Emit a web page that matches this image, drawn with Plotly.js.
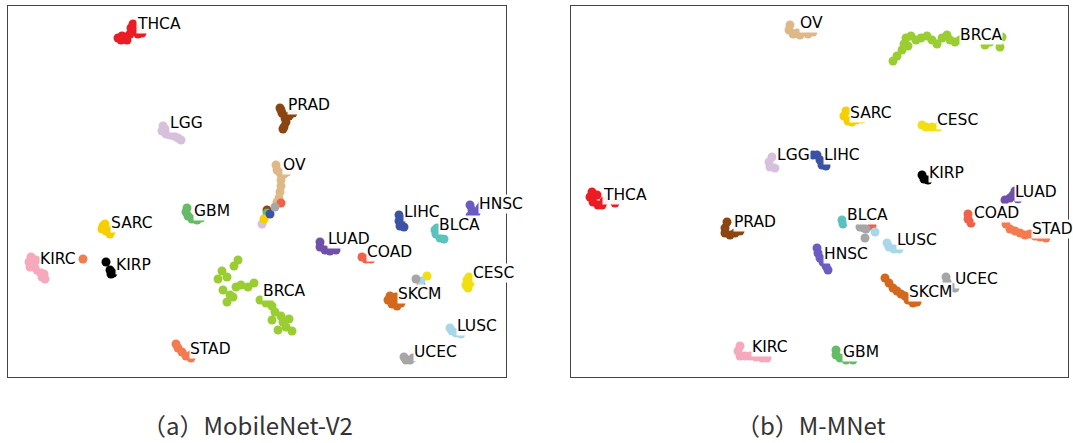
<!DOCTYPE html>
<html>
<head>
<meta charset="utf-8">
<script src="https://cdn.plot.ly/plotly-3.0.1.min.js"></script>
<style>html,body{margin:0;padding:0;background:#fff;}#chart{width:1073px;height:443px;}</style>
</head>
<body>
<div id="chart"></div>
<script>
// Cancer types (same order in both panels)
const cancerTypes = ["THCA","LGG","PRAD","OV","GBM","SARC","KIRC","KIRP","BRCA","STAD","LUAD","COAD","LIHC","BLCA","HNSC","CESC","SKCM","LUSC","UCEC"];

// (a) MobileNet-V2 embedding
const mobilenetX = [
  [-139,-135,-131,-127,-126,-124,-122,-119,-115,-130,-136],
  [-94,-95,-91,-87,-83,-79,-76,-92,5],
  [23,25,28,32,36,29,27,26,24,10],
  [19,20,23,27,30,24,24,23,22,20],
  [-71,-69,-65,-60,-56,-70,10],
  [-154,-155,-151,-147,-145,-152,7],
  [-226,-228,-227,-223,-220,-217,-213,-212,-215,-221],
  [-151,-147,-144,-146],
  [-19,-23,-35,-39,-30,-34,-27,-21,-16,-9,-3,-30,-24,3,9,15,18,24,32,29,21,35,15,26,13],
  [-81,-79,-75,-71,-66,-65,-174],
  [63,63,68,73,79],
  [105,109,114,24],
  [142,142,143,147,145,13],
  [178,179,183,187,180],
  [213,215,219,213,223,225],
  [210,209,211,213,212,170],
  [133,131,135,140,144,139,136,164],
  [193,195,199,204,164],
  [147,149,153,156,18,159]
];
const mobilenetY = [
  [154,156,155,158,164,168,161,158,159,152,152],
  [66,61,58,57,56,54,52,63,-32],
  [84,79,74,76,79,70,65,63,82,-18],
  [27,22,19,18,20,12,6,0,-6,-10],
  [-20,-24,-27,-28,-26,-16,-21],
  [-34,-37,-39,-42,-38,-32,-27],
  [-65,-70,-75,-73,-78,-80,-82,-87,-85,-68],
  [-70,-78,-81,-82],
  [-68,-74,-79,-87,-85,-98,-103,-95,-93,-95,-91,-110,-105,-108,-111,-114,-120,-124,-127,-135,-138,-139,-128,-130,-106],
  [-152,-156,-160,-164,-166,-162,-67],
  [-50,-55,-58,-59,-58],
  [-65,-67,-67,-11],
  [-23,-29,-34,-35,-27,-22],
  [-38,-42,-46,-47,-36],
  [-13,-18,-21,-24,-16,-13],
  [-88,-93,-96,-91,-85,-84],
  [-104,-108,-112,-114,-111,-105,-108,-93],
  [-136,-139,-141,-142,-89],
  [-165,-168,-168,-166,-15,-87]
];
const mobilenetLabelX = [-121,-88,30,25,-64,-147,-218,-142,5,-68,70,109,146,181,221,215,140,199,156];
const mobilenetLabelY = [168,69,87,27,-19,-31,-67,-73,-99,-157,-47,-60,-20,-33,-12,-81,-102,-134,-160];

// (b) M-MNet embedding
const mmnetX = [
  [-228,-230,-227,-222,-218,-216,-223,-205],
  [-48,-51,-50,-45],
  [-93,-95,-95,-90,-85,-80],
  [-30,-31,-27,-20,-12,-7,-23],
  [16,16,20,26,33],
  [26,24,28,32,36,42],
  [-80,-82,-80,-75,-70,-64,-58,-53],
  [102,104,108],
  [73,77,82,84,86,91,96,101,107,112,117,122,127,130,135,140,145,155,165,170,176,182,180,165,88],
  [186,190,195,200,205,210,215,220,226],
  [185,190,193,195,198],
  [148,148,151,52],
  [-7,-3,0,2,6],
  [22,23],
  [-3,-2,0,3,6,8],
  [102,106,112,118,120],
  [65,69,73,77,81,85,88,93,97],
  [67,69,74,79,55],
  [126,127,131,135,40,44,46,45]
];
const mmnetY = [
  [0,-5,-10,-13,-13,-9,-3,-11],
  [35,30,25,24],
  [-30,-36,-41,-43,-41,-39],
  [167,162,158,157,158,160,159],
  [-158,-163,-166,-168,-168],
  [81,76,71,70,72,73],
  [-154,-159,-164,-164,-164,-165,-166,-166],
  [17,13,12],
  [131,136,142,148,154,156,152,154,156,152,148,154,157,152,150,152,154,153,152,150,152,155,145,147,146],
  [-32,-37,-39,-41,-43,-42,-44,-45,-46],
  [-8,-6,-3,1,-7],
  [-22,-27,-31,-34],
  [37,37,32,27,26],
  [-28,-32],
  [-56,-61,-66,-70,-74,-78],
  [67,65,65,65,67],
  [-86,-91,-96,-99,-102,-104,-108,-111,-110],
  [-51,-55,-57,-57,-40],
  [-85,-90,-95,-96,-35,-36,-37,-46]
];
const mmnetLabelX = [-218,-44,-87,-21,22,29,-69,108,139,211,194,153,3,26,3,116,88,76,134];
const mmnetLabelY = [-3,37,-30,169,-160,79,-155,19,157,-37,0,-21,37,-23,-62,72,-100,-48,-87];

const captions = ["（a）MobileNet-V2", "（b）M-MNet"];

// styling
const colors = {
  THCA:"#ec1c24", LGG:"#d6c0dc", PRAD:"#8b4513", OV:"#deb887", GBM:"#66bb66",
  SARC:"#f5cf00", KIRC:"#f6a9bd", KIRP:"#000000", BRCA:"#9acd32", STAD:"#f47b50",
  LUAD:"#7050a8", COAD:"#f0604a", LIHC:"#3b52a5", BLCA:"#5bc2be", HNSC:"#6a5cc0",
  CESC:"#f0e010", SKCM:"#d2691e", LUSC:"#a8d8e8", UCEC:"#a6a6a6"
};

const traces = [];
const annotations = [];
function addPanel(X, Y, LX, LY, xa, ya) {
  cancerTypes.forEach((c, i) => {
    traces.push({
      type: "scatter", mode: "markers", name: c,
      x: X[i], y: Y[i], xaxis: xa, yaxis: ya,
      marker: {color: colors[c], size: 9, line: {width: 0}},
      hoverinfo: "name", showlegend: false
    });
    annotations.push({
      xref: xa, yref: ya, x: LX[i], y: LY[i], text: c,
      showarrow: false, xanchor: "left", yanchor: "middle",
      bgcolor: "rgba(255,255,255,0.95)", borderpad: 0,
      font: {family: "DejaVu Sans", size: 15.5, color: "#000"}
    });
  });
}
addPanel(mobilenetX, mobilenetY, mobilenetLabelX, mobilenetLabelY, "x", "y");
addPanel(mmnetX, mmnetY, mmnetLabelX, mmnetLabelY, "x2", "y2");

const capFont = {family:"Noto Sans CJK SC", size:24, color:"#333"};
annotations.push({xref:"paper", yref:"paper", x: 247/1073, y: 0, text: captions[0],
  showarrow:false, xanchor:"center", yanchor:"bottom", borderpad: 0, font: capFont});
annotations.push({xref:"paper", yref:"paper", x: 811/1073, y: 0, text: captions[1],
  showarrow:false, xanchor:"center", yanchor:"bottom", borderpad: 0, font: capFont});

const axCommon = {showgrid:false, zeroline:false, showticklabels:false, ticks:"",
  showline:true, mirror:true, linecolor:"#444", linewidth:1.3, fixedrange:true};

const layout = {
  width: 1073, height: 443,
  margin: {l:0, r:0, t:0, b:0},
  paper_bgcolor: "#fff", plot_bgcolor: "#fff",
  showlegend: false,
  xaxis: Object.assign({}, axCommon, {domain:[8/1073, 506/1073], range:[-249, 249]}),
  yaxis: Object.assign({}, axCommon, {domain:[66/443, 437/443], range:[-185, 186]}),
  xaxis2: Object.assign({}, axCommon, {domain:[571/1073, 1068/1073], range:[-249, 248], anchor:"y2"}),
  yaxis2: Object.assign({}, axCommon, {domain:[66/443, 437/443], range:[-185, 186], anchor:"x2"}),
  annotations: annotations
};

Plotly.newPlot("chart", traces, layout, {displayModeBar:false, staticPlot:true});
</script>
</body>
</html>
